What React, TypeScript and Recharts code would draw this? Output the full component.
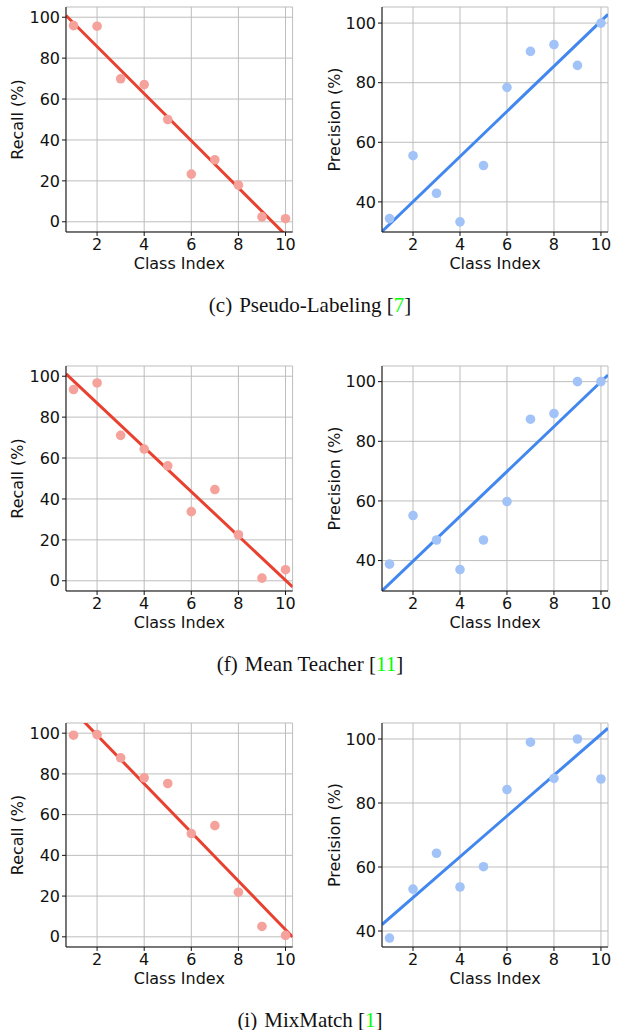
import React from 'react';
import { ScatterChart, Scatter, XAxis, YAxis, CartesianGrid, ReferenceLine } from 'recharts';

const CLASS_INDEX = [1, 2, 3, 4, 5, 6, 7, 8, 9, 10];
const X_TICKS = [2, 4, 6, 8, 10];
const X_DOMAIN: [number, number] = [0.68, 10.3];
const RECALL_TICKS = [0, 20, 40, 60, 80, 100];
const PRECISION_TICKS = [40, 60, 80, 100];

// one value per class
const PSEUDO_RECALL = [95.9, 95.6, 69.9, 67.1, 50.0, 23.3, 30.3, 17.9, 2.4, 1.5];
const PSEUDO_PRECISION = [34.4, 55.5, 42.9, 33.3, 52.2, 78.4, 90.5, 92.8, 85.8, 100];
const MT_RECALL = [93.5, 96.7, 71.1, 64.4, 56.2, 33.8, 44.6, 22.5, 1.3, 5.4];
const MT_PRECISION = [38.8, 55.1, 46.9, 37.0, 46.9, 59.8, 87.4, 89.3, 100, 100];
const MIX_RECALL = [99.0, 99.3, 87.9, 78.1, 75.3, 50.7, 54.6, 21.9, 5.1, 0.7];
const MIX_PRECISION = [37.8, 53.1, 64.3, 53.75, 60.1, 84.2, 99.0, 87.7, 100, 87.5];

const RED = { dot: '#f4a29b', line: '#e8412f' };
const BLUE = { dot: '#a2c3f7', line: '#4287f0' };

const FONT = '"DejaVu Sans", sans-serif';
const AXIS_W = 66;

const toPoints = (ys: number[]) => CLASS_INDEX.map((x, i) => ({ x, y: ys[i] }));

// least squares fit, drawn across the whole x range
const fitLine = (ys: number[]) => {
  const n = CLASS_INDEX.length;
  const mx = CLASS_INDEX.reduce((a, b) => a + b, 0) / n;
  const my = ys.reduce((a, b) => a + b, 0) / n;
  let sxy = 0;
  let sxx = 0;
  CLASS_INDEX.forEach((x, i) => {
    sxy += (x - mx) * (ys[i] - my);
    sxx += (x - mx) * (x - mx);
  });
  const slope = sxy / sxx;
  const b = my - slope * mx;
  return X_DOMAIN.map((x) => ({ x, y: b + slope * x }));
};

interface PanelProps {
  left: number;
  top: number;
  plotW: number;
  plotH: number;
  values: number[];
  yDomain: [number, number];
  yTicks: number[];
  yLabel: string;
  color: { dot: string; line: string };
}

const Panel: React.FC<PanelProps> = ({ left, top, plotW, plotH, values, yDomain, yTicks, yLabel, color }) => {
  const w = AXIS_W + plotW + 8;
  const h = 8 + plotH + 40;
  const tickStyle = { fontSize: 16, fill: '#111', fontFamily: FONT };

  return (
    <div style={{ position: 'absolute', left: left - AXIS_W, top: top - 8 }}>
      <ScatterChart width={w} height={h} margin={{ top: 8, right: 8, left: 0, bottom: 0 }}>
        <CartesianGrid xAxisId="b" yAxisId="l" stroke="#bdbdbd" strokeWidth={1} />
        <XAxis
          xAxisId="b"
          type="number"
          dataKey="x"
          domain={X_DOMAIN}
          ticks={X_TICKS}
          allowDataOverflow
          height={40}
          tick={tickStyle}
          tickSize={4}
          tickMargin={3}
          stroke="#111"
          label={{
            content: ({ viewBox }: any) => (
              <text x={viewBox.x + viewBox.width / 2} y={viewBox.y + 37} textAnchor="middle" fontSize={16} fontFamily={FONT} fill="#111">
                Class Index
              </text>
            ),
          }}
        />
        <XAxis xAxisId="t" orientation="top" type="number" domain={X_DOMAIN} allowDataOverflow height={0} tick={false} tickLine={false} stroke="#222" />
        <YAxis
          yAxisId="l"
          type="number"
          dataKey="y"
          domain={yDomain}
          ticks={yTicks}
          allowDataOverflow
          width={AXIS_W}
          tick={tickStyle}
          tickSize={4}
          tickMargin={2}
          stroke="#111"
          label={{
            content: ({ viewBox }: any) => {
              const cx = viewBox.x + viewBox.width - 48;
              const cy = viewBox.y + viewBox.height / 2;
              return (
                <text x={cx} y={cy} transform={`rotate(-90 ${cx} ${cy})`} textAnchor="middle" dominantBaseline="central" fontSize={16} fontFamily={FONT} fill="#111">
                  {yLabel}
                </text>
              );
            },
          }}
        />
        <YAxis yAxisId="r" orientation="right" type="number" domain={yDomain} allowDataOverflow width={0} tick={false} tickLine={false} stroke="#222" />
        <Scatter
          xAxisId="b"
          yAxisId="l"
          data={toPoints(values)}
          fill={color.dot}
          isAnimationActive={false}
          shape={(p: any) => <circle cx={p.cx} cy={p.cy} r={4.8} fill={color.dot} />}
        />
        <ReferenceLine
          xAxisId="b"
          yAxisId="l"
          segment={fitLine(values)}
          stroke={color.line}
          strokeWidth={3}
          ifOverflow="hidden"
        />
      </ScatterChart>
    </div>
  );
};

const Caption: React.FC<{ y: number; tag: string; name: string; cite: string }> = ({ y, tag, name, cite }) => (
  <text x={310} y={y} textAnchor="middle" fontSize={21} fontFamily='"Liberation Serif", "Times New Roman", serif' fill="#111">
    {tag}
    <tspan dx={7}>{name} [</tspan>
    <tspan fill="#00ff00">{cite}</tspan>
    <tspan>]</tspan>
  </text>
);

export default function App() {
  return (
    <div style={{ position: 'absolute', left: 0, top: 0, width: 619, height: 1030, background: '#fff' }}>
      <Panel left={65.7} top={7.3} plotW={226.6} plotH={225} values={PSEUDO_RECALL} yDomain={[-5, 105]} yTicks={RECALL_TICKS} yLabel="Recall (%)" color={RED} />
      <Panel left={381.7} top={7.3} plotW={226} plotH={225} values={PSEUDO_PRECISION} yDomain={[29.9, 105.4]} yTicks={PRECISION_TICKS} yLabel="Precision (%)" color={BLUE} />
      <Panel left={65.7} top={365.7} plotW={226.6} plotH={225} values={MT_RECALL} yDomain={[-5, 105]} yTicks={RECALL_TICKS} yLabel="Recall (%)" color={RED} />
      <Panel left={381.7} top={365.7} plotW={226} plotH={225} values={MT_PRECISION} yDomain={[29.8, 105.25]} yTicks={PRECISION_TICKS} yLabel="Precision (%)" color={BLUE} />
      <Panel left={65.7} top={723.3} plotW={226.6} plotH={224} values={MIX_RECALL} yDomain={[-5, 105]} yTicks={RECALL_TICKS} yLabel="Recall (%)" color={RED} />
      <Panel left={381.7} top={723.3} plotW={226} plotH={224} values={MIX_PRECISION} yDomain={[35, 105]} yTicks={PRECISION_TICKS} yLabel="Precision (%)" color={BLUE} />
      <svg width={619} height={1030} style={{ position: 'absolute', left: 0, top: 0, pointerEvents: 'none' }}>
        <Caption y={312.3} tag="(c)" name="Pseudo-Labeling" cite="7" />
        <Caption y={670.6} tag="(f)" name="Mean Teacher" cite="11" />
        <Caption y={1026.5} tag="(i)" name="MixMatch" cite="1" />
      </svg>
    </div>
  );
}
